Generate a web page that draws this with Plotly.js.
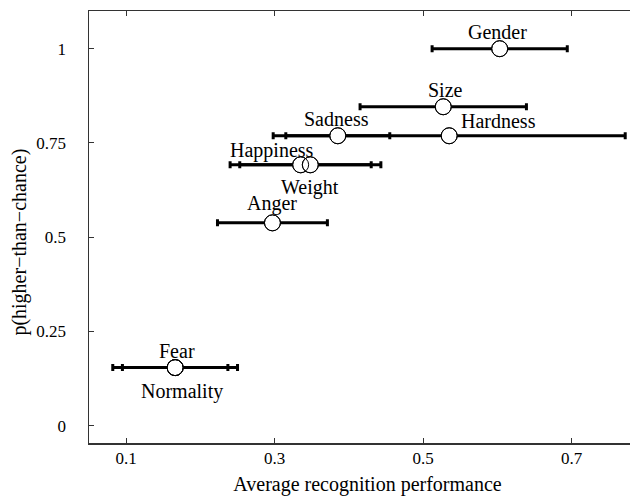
<!DOCTYPE html>
<html>
<head>
<meta charset="utf-8">
<script src="https://cdn.plot.ly/plotly-3.0.1.min.js"></script>
<style>
html,body{margin:0;padding:0;overflow:hidden;width:630px;height:496px;background:#fff;}
#chart{width:646px;height:496px;}
</style>
</head>
<body>
<div id="chart"></div>
<script>
// Data
var names = ['Gender','Size','Sadness','Hardness','Happiness','Weight','Anger','Fear','Normality'];
var performance = [0.603, 0.527, 0.385, 0.535, 0.335, 0.348, 0.297, 0.166, 0.166];
var pHigher = [1.0, 0.846, 0.769, 0.769, 0.692, 0.692, 0.538, 0.154, 0.154];
var errHalf = [0.091, 0.112, 0.070, 0.237, 0.095, 0.095, 0.074, 0.084, 0.071];
var xTicks = [0.1, 0.3, 0.5, 0.7];
var xTickText = ['0.1', '0.3', '0.5', '0.7'];
var yTicks = [0, 0.25, 0.5, 0.75, 1];
var yTickText = ['0', '0.25', '0.5', '0.75', '1'];

// label placement (pixel offsets from each point)
var labelDx = [-2, 2, -1, 10, -29, 0, 0, 2, 7];
var labelDy = [17, 17, 17, 15, 14, -23, 19, 17, -24];
var labelAnchor = ['center','center','center','left','center','center','center','center','center'];

var FONT = '"Liberation Serif", "Times New Roman", serif';

var traces = [
  {
    type: 'scatter', mode: 'markers',
    x: performance, y: pHigher,
    error_x: {type: 'data', array: errHalf, visible: true, color: '#000', thickness: 3, width: 3.5},
    marker: {symbol: 'circle', size: 16, color: '#ffffff', line: {color: '#000', width: 1}},
    hoverinfo: 'skip', showlegend: false
  },
  {
    type: 'scatter', mode: 'markers',
    x: performance, y: pHigher,
    marker: {symbol: 'circle-open', size: 16, color: '#000', line: {color: '#000', width: 1}},
    hoverinfo: 'skip', showlegend: false
  }
];

var annotations = names.map(function(n, i) {
  return {
    x: performance[i], y: pHigher[i], xref: 'x', yref: 'y',
    text: n, showarrow: false,
    xanchor: labelAnchor[i], yanchor: 'middle',
    xshift: labelDx[i], yshift: labelDy[i],
    font: {family: FONT, size: 20, color: '#000'}
  };
});
annotations.push({
  xref: 'paper', yref: 'paper', x: -0.124, y: 0.466,
  text: 'p(higher\u2212than\u2212chance)', textangle: -90, showarrow: false,
  xanchor: 'center', yanchor: 'middle',
  font: {family: FONT, size: 20, color: '#000'}
});

var layout = {
  width: 646, height: 496,
  margin: {l: 89, r: 0, t: 11, b: 53, pad: 0},
  paper_bgcolor: '#fff', plot_bgcolor: '#fff',
  font: {family: FONT, size: 17, color: '#000'},
  xaxis: {
    range: [0.05, 0.8], tickmode: 'array', tickvals: xTicks, ticktext: xTickText,
    ticks: 'inside', ticklen: 5, tickwidth: 1, tickcolor: '#333',
    showline: true, linecolor: '#333', linewidth: 1.5, mirror: 'ticks',
    showgrid: false, zeroline: false,
    tickfont: {family: FONT, size: 17, color: '#000'},
    ticklabelstandoff: -1,
    title: {text: 'Average recognition performance', font: {family: FONT, size: 20, color: '#000'}, standoff: 17}
  },
  yaxis: {
    range: [-0.046, 1.1], tickmode: 'array', tickvals: yTicks, ticktext: yTickText,
    ticks: 'inside', ticklen: 5, tickwidth: 1, tickcolor: '#333',
    showline: true, linecolor: '#333', linewidth: 1.5, mirror: 'ticks',
    showgrid: false, zeroline: false,
    tickfont: {family: FONT, size: 17, color: '#000'},
    ticklabelstandoff: 18
  },
  annotations: annotations
};

Plotly.newPlot('chart', traces, layout, {displayModeBar: false, staticPlot: true});
</script>
</body>
</html>
